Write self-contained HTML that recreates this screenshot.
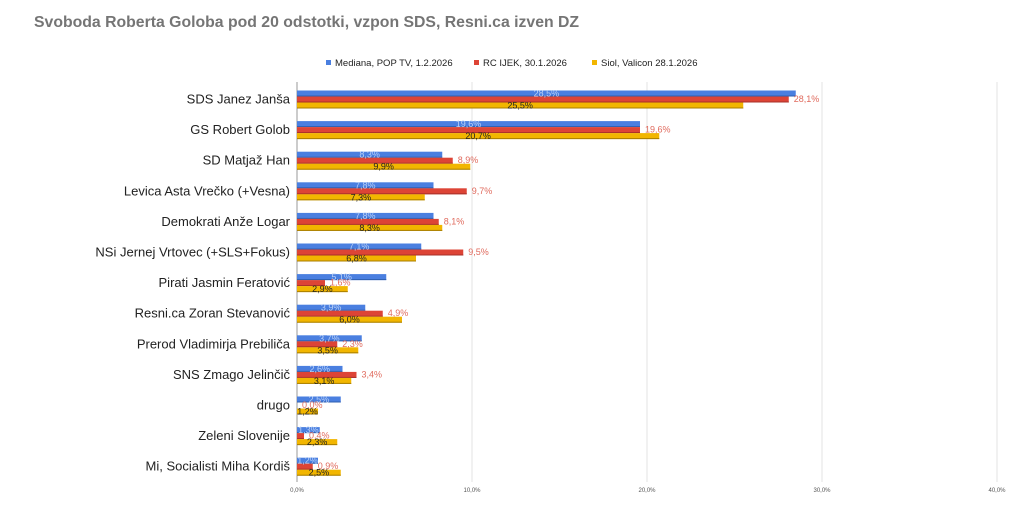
<!DOCTYPE html>
<html><head><meta charset="utf-8"><style>
html,body{margin:0;padding:0;background:#fff;}
svg{display:block;font-family:"Liberation Sans",Arial,sans-serif;}
</style></head><body>
<svg id="c" width="1024" height="521" viewBox="0 0 1024 521" xmlns="http://www.w3.org/2000/svg">
<rect width="1024" height="521" fill="#fff"/>
<text x="34" y="27" font-size="15.8" font-weight="bold" fill="#757575">Svoboda Roberta Goloba pod 20 odstotki, vzpon SDS, Resni.ca izven DZ</text>
<rect x="326" y="60" width="5" height="5" fill="#4a7fe0"/>
<text x="335" y="66" font-size="9.5" fill="#222">Mediana, POP TV, 1.2.2026</text>
<rect x="474" y="60" width="5" height="5" fill="#dd4436"/>
<text x="483" y="66" font-size="9.5" fill="#222">RC IJEK, 30.1.2026</text>
<rect x="592" y="60" width="5" height="5" fill="#f2b600"/>
<text x="601" y="66" font-size="9.5" fill="#222">Siol, Valicon 28.1.2026</text>
<g stroke="#e3e3e3" stroke-width="1">
<line x1="472" y1="82" x2="472" y2="482"/><line x1="647" y1="82" x2="647" y2="482"/>
<line x1="822" y1="82" x2="822" y2="482"/><line x1="997" y1="82" x2="997" y2="482"/>
</g>
<line x1="297" y1="82" x2="297" y2="482" stroke="#bbb" stroke-width="1.5"/>
<g font-size="6" fill="#555" text-anchor="middle">
<text x="297" y="492">0,0%</text><text x="472" y="492">10,0%</text><text x="647" y="492">20,0%</text><text x="822" y="492">30,0%</text><text x="997" y="492">40,0%</text>
</g>
<g id="bars"></g>
</svg>
<script>
var names=["SDS Janez Janša","GS Robert Golob","SD Matjaž Han","Levica Asta Vrečko (+Vesna)","Demokrati Anže Logar","NSi Jernej Vrtovec (+SLS+Fokus)","Pirati Jasmin Feratović","Resni.ca Zoran Stevanović","Prerod Vladimirja Prebiliča","SNS Zmago Jelinčič","drugo","Zeleni Slovenije","Mi, Socialisti Miha Kordiš"];
var b=[28.5,19.6,8.3,7.8,7.8,7.1,5.1,3.9,3.7,2.6,2.5,1.3,1.2];
var r=[28.1,19.6,8.9,9.7,8.1,9.5,1.6,4.9,2.3,3.4,0.0,0.4,0.9];
var y=[25.5,20.7,9.9,7.3,8.3,6.8,2.9,6.0,3.5,3.1,1.2,2.3,2.5];
var s="",x0=297,k=17.5,f=function(v){return v.toFixed(1).replace('.',',')+'%';};
for(var i=0;i<13;i++){
 var t=90.5+i*30.6,c=t+8.5;
 s+='<text x="290" y="'+(c+4.5)+'" font-size="13" fill="#222" text-anchor="end">'+names[i]+'</text>';
 var cols=[["#4a7fe0","#2f5fb0",b[i]],["#dd4436","#a8302a",r[i]],["#f2b600","#a87e00",y[i]]];
 for(var j=0;j<3;j++){
  var w=cols[j][2]*k,yy=t+j*6;
  s+='<rect x="'+x0+'" y="'+yy+'" width="'+w+'" height="6" fill="'+cols[j][0]+'"/>';
  s+='<rect x="'+x0+'" y="'+(yy+5)+'" width="'+w+'" height="1" fill="'+cols[j][1]+'"/>';
 }
 s+='<text x="'+(x0+b[i]*k/2)+'" y="'+(t+6)+'" font-size="9" fill="#b8d0f7" text-anchor="middle">'+f(b[i])+'</text>';
 s+='<text x="'+(x0+r[i]*k+5)+'" y="'+(t+11.5)+'" font-size="9" fill="#e06b5e">'+f(r[i])+'</text>';
 s+='<text x="'+(x0+y[i]*k/2)+'" y="'+(t+18)+'" font-size="9" fill="#222" text-anchor="middle">'+f(y[i])+'</text>';
}
document.getElementById("bars").innerHTML=s;
</script>
</body></html>
